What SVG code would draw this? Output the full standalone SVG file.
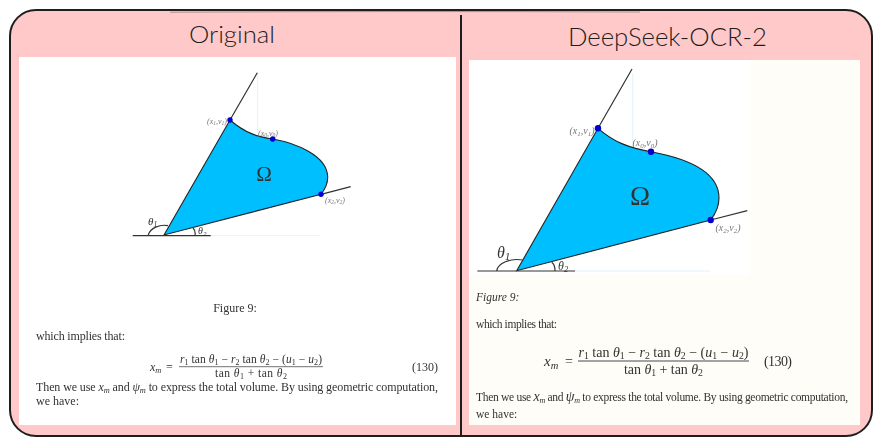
<svg xmlns="http://www.w3.org/2000/svg" width="881" height="447" viewBox="0 0 881 447">
<style>
.serif{font-family:"Liberation Serif","Times New Roman",serif;fill:#333}
.blurL{filter:url(#bl)}
.blurR{filter:url(#br)}
.title{font-family:"Lato","Noto Sans",sans-serif;font-weight:300;fill:#1e1e1e}
.ln{fill:none;stroke:#333;stroke-width:1.2}
.faint{fill:none;stroke:#d5effa;stroke-width:.8}
.shape{fill:#00bfff;stroke:#222;stroke-width:1.1}
.pt{fill:#0000d0}
.lab{fill:#777;font-style:italic}
.i{font-style:italic}
.sub{font-size:70%}
</style>
<defs>
<filter id="bl" x="-5%" y="-5%" width="110%" height="110%"><feGaussianBlur stdDeviation="0.55"/></filter>
<filter id="br" x="-5%" y="-5%" width="110%" height="110%"><feGaussianBlur stdDeviation="0.3"/></filter>
</defs>

<rect id="frame" x="10" y="10" width="862" height="426" rx="26" ry="26" fill="#ffc9c9" stroke="#1e1e1e" stroke-width="2"/>
<path d="M170 12.200 Q400 11 640 12" fill="none" stroke="#1e1e1e" stroke-width="1" opacity=".35"/>
<line id="divider" x1="461" y1="15" x2="461" y2="435" stroke="#1e1e1e" stroke-width="2"/>

<text class="title" x="189" y="43" font-size="24" textLength="86" lengthAdjust="spacingAndGlyphs">Original</text>
<text class="title" x="568" y="46" font-size="25" textLength="199" lengthAdjust="spacingAndGlyphs">DeepSeek-OCR-2</text>

<g id="panel-original">
<rect x="19" y="57" width="437" height="368" fill="#fff"/>
<g class="blurL">
<path class="faint" d="M257.700 73V132M210 235.700H320"/>
<path class="shape" d="M164 235 L230 120 C245 133 258 137 272.700 139 C295 143 327 155 327.700 176.700 C328 184 325 189 321 194.300 Z"/>
<path class="ln" d="M230 120L257.300 72.700M321 194.300L350.700 186.700M132.700 235.700H210.700M148.300 235C150 228 160 224 168 225.700M193 228C195 230 195.500 233 195 235.700"/>
<circle class="pt" cx="230" cy="120" r="2.700"/><circle class="pt" cx="272.700" cy="139" r="2.700"/><circle class="pt" cx="321" cy="194.300" r="2.700"/>
<text class="serif" x="264" y="181" font-size="21" text-anchor="middle" fill="#222">Ω</text>
<g class="serif" font-size="8">
<text class="lab" x="217" y="124" text-anchor="middle">(x<tspan class="sub" dy="1">1</tspan><tspan dy="-1">,v</tspan><tspan class="sub" dy="1">1</tspan><tspan dy="-1">)</tspan></text>
<text class="lab" x="268" y="136" text-anchor="middle">(x<tspan class="sub" dy="1">0</tspan><tspan dy="-1">,v</tspan><tspan class="sub" dy="1">0</tspan><tspan dy="-1">)</tspan></text>
<text class="lab" x="335" y="203" text-anchor="middle">(x<tspan class="sub" dy="1">2</tspan><tspan dy="-1">,v</tspan><tspan class="sub" dy="1">2</tspan><tspan dy="-1">)</tspan></text>
</g>
<text class="serif i" x="148" y="225" font-size="11">θ<tspan class="sub" dy="1.500">1</tspan></text>
<text class="serif i" x="198" y="234" font-size="10">θ<tspan class="sub" dy="1.500">2</tspan></text>
<text class="serif" x="235" y="312" font-size="12" text-anchor="middle">Figure 9:</text>
<text class="serif" x="36" y="340" font-size="12" textLength="89">which implies that:</text>
<text class="serif i" x="150" y="371" font-size="12">x<tspan class="sub" dy="2">m</tspan></text>
<text class="serif" x="166" y="371" font-size="12">=</text>
<text class="serif" x="251" y="363" font-size="11.500" text-anchor="middle" textLength="142"><tspan class="i">r</tspan><tspan class="sub" dy="1.500">1</tspan><tspan dy="-1.500"> tan </tspan><tspan class="i">θ</tspan><tspan class="sub" dy="1.500">1</tspan><tspan dy="-1.500"> − </tspan><tspan class="i">r</tspan><tspan class="sub" dy="1.500">2</tspan><tspan dy="-1.500"> tan </tspan><tspan class="i">θ</tspan><tspan class="sub" dy="1.500">2</tspan><tspan dy="-1.500"> − (</tspan><tspan class="i">u</tspan><tspan class="sub" dy="1.500">1</tspan><tspan dy="-1.500"> − </tspan><tspan class="i">u</tspan><tspan class="sub" dy="1.500">2</tspan><tspan dy="-1.500">)</tspan></text>
<line x1="179" y1="366.700" x2="323" y2="366.700" stroke="#333" stroke-width=".7"/>
<text class="serif" x="251" y="377" font-size="11.500" text-anchor="middle" textLength="72">tan <tspan class="i">θ</tspan><tspan class="sub" dy="1.500">1</tspan><tspan dy="-1.500"> + tan </tspan><tspan class="i">θ</tspan><tspan class="sub" dy="1.500">2</tspan></text>
<text class="serif" x="438" y="371" font-size="12" text-anchor="end">(130)</text>
<text class="serif" x="36" y="391" font-size="12" textLength="402">Then we use <tspan class="i">x</tspan><tspan class="sub i" dy="1.500">m</tspan><tspan dy="-1.500"> and </tspan><tspan class="i">ψ</tspan><tspan class="sub i" dy="1.500">m</tspan><tspan dy="-1.500"> to express the total volume. By using geometric computation,</tspan></text>
<text class="serif" x="36" y="405" font-size="12">we have:</text>
</g>
</g>

<g id="panel-deepseek">
<rect x="469" y="60" width="391" height="365" fill="#fffdf8"/>
<rect x="469" y="60" width="281" height="215" fill="#fff"/>
<g class="blurR">
<path class="faint" d="M632.700 73V147M575 271H710"/>
<path class="shape" d="M516.700 270.700 L598 128.300 C615 143 630 148 651 151.700 C685 158 719 170 719 198 C719 206 716 213 710.700 220 Z"/>
<path class="ln" d="M598 128.300L632 69M710.700 220L747.300 210.700M477.300 271H575M496.700 270.700C498 263 510 258 522.700 260M551.700 262.300C554 264 555 267 555 270.700"/>
<circle class="pt" cx="598" cy="128.300" r="3.200"/><circle class="pt" cx="651" cy="151.700" r="3.200"/><circle class="pt" cx="710.700" cy="220" r="3.200"/>
<text class="serif" x="640" y="205" font-size="27" text-anchor="middle" fill="#222">Ω</text>
<g class="serif" font-size="10">
<text class="lab" x="582" y="134" text-anchor="middle">(x<tspan class="sub" dy="1.500">1</tspan><tspan dy="-1.500">,v</tspan><tspan class="sub" dy="1.500">1</tspan><tspan dy="-1.500">)</tspan></text>
<text class="lab" x="645" y="146" text-anchor="middle">(x<tspan class="sub" dy="1.500">0</tspan><tspan dy="-1.500">,v</tspan><tspan class="sub" dy="1.500">0</tspan><tspan dy="-1.500">)</tspan></text>
<text class="lab" x="728" y="231" text-anchor="middle">(x<tspan class="sub" dy="1.500">2</tspan><tspan dy="-1.500">,v</tspan><tspan class="sub" dy="1.500">2</tspan><tspan dy="-1.500">)</tspan></text>
</g>
<text class="serif i" x="497" y="258" font-size="16">θ<tspan class="sub" dy="2">1</tspan></text>
<text class="serif i" x="558" y="270" font-size="12">θ<tspan class="sub" dy="1.500">2</tspan></text>
<text class="serif i" x="476" y="301" font-size="11.500">Figure 9:</text>
<text class="serif" x="476" y="328" font-size="11.500" textLength="81">which implies that:</text>
<text class="serif i" x="544" y="366" font-size="15">x<tspan class="sub" dy="2.500">m</tspan></text>
<text class="serif" x="565" y="366" font-size="14">=</text>
<text class="serif" x="663.500" y="357" font-size="14" text-anchor="middle" textLength="170"><tspan class="i">r</tspan><tspan class="sub" dy="2">1</tspan><tspan dy="-2"> tan </tspan><tspan class="i">θ</tspan><tspan class="sub" dy="2">1</tspan><tspan dy="-2"> − </tspan><tspan class="i">r</tspan><tspan class="sub" dy="2">2</tspan><tspan dy="-2"> tan </tspan><tspan class="i">θ</tspan><tspan class="sub" dy="2">2</tspan><tspan dy="-2"> − (</tspan><tspan class="i">u</tspan><tspan class="sub" dy="2">1</tspan><tspan dy="-2"> − </tspan><tspan class="i">u</tspan><tspan class="sub" dy="2">2</tspan><tspan dy="-2">)</tspan></text>
<line x1="578" y1="361" x2="749" y2="361" stroke="#2a3342" stroke-width=".9"/>
<text class="serif" x="663.500" y="374" font-size="14" text-anchor="middle" textLength="79">tan <tspan class="i">θ</tspan><tspan class="sub" dy="2">1</tspan><tspan dy="-2"> + tan </tspan><tspan class="i">θ</tspan><tspan class="sub" dy="2">2</tspan></text>
<text class="serif" x="764" y="366" font-size="14" textLength="28">(130)</text>
<text class="serif" x="476" y="401" font-size="11.500" textLength="372">Then we use <tspan class="i" font-size="14">x</tspan><tspan class="sub i" dy="1.500">m</tspan><tspan dy="-1.500"> and </tspan><tspan class="i" font-size="14">ψ</tspan><tspan class="sub i" dy="1.500">m</tspan><tspan dy="-1.500"> to express the total volume. By using geometric computation,</tspan></text>
<text class="serif" x="476" y="418" font-size="11.500">we have:</text>
</g>
</g>
</svg>
